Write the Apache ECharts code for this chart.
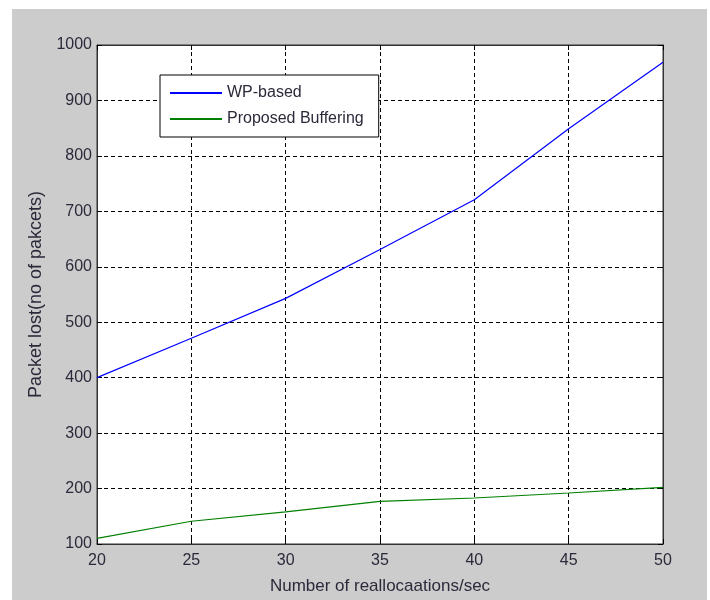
<!DOCTYPE html>
<html>
<head>
<meta charset="utf-8">
<script src="https://cdn.jsdelivr.net/npm/echarts@6/dist/echarts.min.js"></script>
<style>
html,body{margin:0;padding:0;background:#fff;}
#bg{position:absolute;left:12px;top:9px;width:695px;height:591px;background:#cccccc;}
#chart{position:absolute;left:0;top:0;width:710px;height:600px;}
</style>
</head>
<body>
<div id="bg"></div>
<div id="chart"></div>
<script>
const xValues = [20, 25, 30, 35, 40, 45, 50];
const wpBased = [400, 471, 543, 631, 721, 849, 969];
const proposedBuffering = [110, 141, 158, 177, 183, 192, 202];
const seriesNames = ['WP-based', 'Proposed Buffering'];
const xAxisTitle = 'Number of reallocaations/sec';
const yAxisTitle = 'Packet lost(no of pakcets)';

const font = 'Liberation Sans, Arial, sans-serif';
const txt = '#2a2a3a';
const chart = echarts.init(document.getElementById('chart'), null, {renderer: 'canvas'});

const dashed = {show: true, lineStyle: {color: '#000', width: 1, type: [4, 3]}};
const baseTick = {show: true, inside: true, length: 5, lineStyle: {color: '#000', width: 1}};

chart.setOption({
  backgroundColor: 'transparent',
  animation: false,
  grid: {left: 97, top: 45, right: 47, bottom: 56, show: true, backgroundColor: '#fff', borderColor: '#333', borderWidth: 1},
  legend: {
    show: true, orient: 'vertical', left: 160, top: 75,
    padding: [10, 15, 10, 10], itemGap: 10, itemWidth: 52, itemHeight: 2,
    icon: 'rect', backgroundColor: '#fff', borderColor: '#000', borderWidth: 1, borderRadius: 0,
    textStyle: {fontFamily: font, fontSize: 16, color: txt},
    data: seriesNames
  },
  xAxis: [{
    type: 'value', min: 20, max: 50, interval: 5,
    axisLine: {show: true, lineStyle: {color: '#333'}},
    axisTick: baseTick,
    axisLabel: {fontFamily: font, fontSize: 16, color: txt, margin: 9, formatter: v => String(v)},
    splitLine: dashed,
    name: xAxisTitle, nameLocation: 'middle', nameGap: 34,
    nameTextStyle: {fontFamily: font, fontSize: 17, color: txt}
  }, {
    type: 'value', min: 20, max: 50, interval: 5, position: 'top',
    axisLine: {show: true, lineStyle: {color: '#333'}},
    axisTick: baseTick, axisLabel: {show: false}, splitLine: {show: false}
  }],
  yAxis: [{
    type: 'value', min: 100, max: 1000, interval: 100,
    axisLine: {show: true, lineStyle: {color: '#333'}},
    axisTick: baseTick,
    axisLabel: {fontFamily: font, fontSize: 16, color: txt, margin: 5, formatter: v => String(v)},
    splitLine: dashed,
    name: yAxisTitle, nameLocation: 'middle', nameGap: 51,
    nameTextStyle: {fontFamily: font, fontSize: 18, color: txt}
  }, {
    type: 'value', min: 100, max: 1000, interval: 100, position: 'right',
    axisLine: {show: true, lineStyle: {color: '#333'}},
    axisTick: baseTick, axisLabel: {show: false}, splitLine: {show: false}
  }],
  series: [{
    name: seriesNames[0], type: 'line', symbol: 'none',
    data: xValues.map((x, i) => [x, wpBased[i]]),
    lineStyle: {color: '#0000ff', width: 1.2}, itemStyle: {color: '#0000ff'}
  }, {
    name: seriesNames[1], type: 'line', symbol: 'none',
    data: xValues.map((x, i) => [x, proposedBuffering[i]]),
    lineStyle: {color: '#008000', width: 1.2}, itemStyle: {color: '#008000'}
  }]
});
</script>
</body>
</html>
